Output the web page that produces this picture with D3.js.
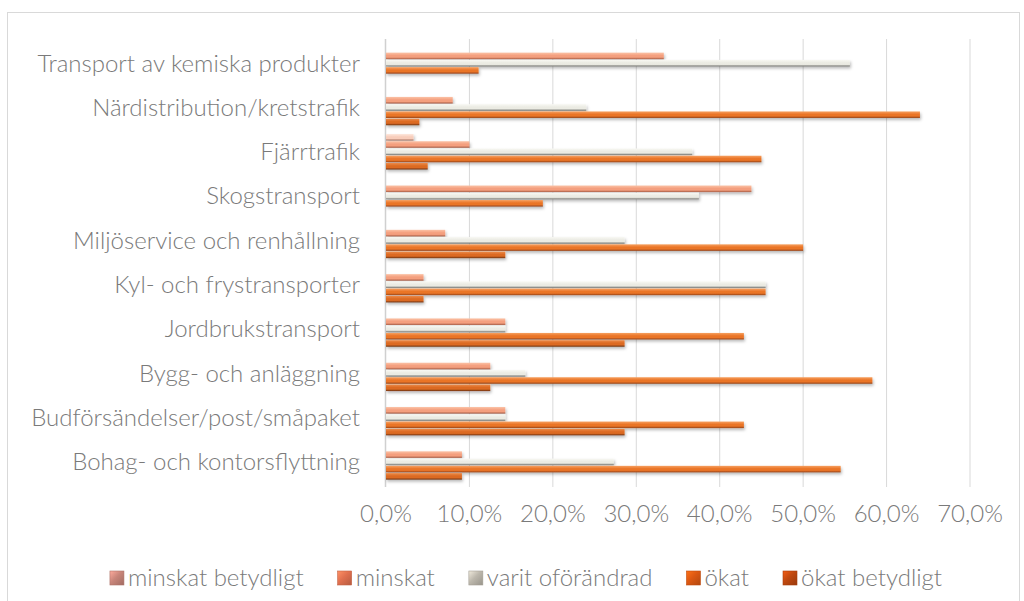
<!DOCTYPE html>
<html>
<head>
<meta charset="utf-8">
<script src="https://cdn.jsdelivr.net/npm/d3@7"></script>
<style>
  body { margin: 0; background: #fff; }
  svg text { font-family: Lato, "Open Sans", sans-serif; font-weight: 300; fill: #7a7a7a; }
</style>
</head>
<body>
<svg id="chart" width="1024" height="601"></svg>
<script>
// Categories, top to bottom
var categories = [
  "Transport av kemiska produkter",
  "Närdistribution/kretstrafik",
  "Fjärrtrafik",
  "Skogstransport",
  "Miljöservice och renhållning",
  "Kyl- och frystransporter",
  "Jordbrukstransport",
  "Bygg- och anläggning",
  "Budförsändelser/post/småpaket",
  "Bohag- och kontorsflyttning"
];

var seriesNames = ["minskat betydligt", "minskat", "varit oförändrad", "ökat", "ökat betydligt"];

// Shares (%) per category, same order as categories
var minskatBetydligt = [0, 0, 3.3, 0, 0, 0, 0, 0, 0, 0];
var minskat          = [33.3, 8.0, 10.0, 43.8, 7.1, 4.5, 14.3, 12.5, 14.3, 9.1];
var oforandrad       = [55.6, 24.0, 36.7, 37.5, 28.6, 45.5, 14.3, 16.7, 14.3, 27.3];
var okat             = [11.1, 64.0, 45.0, 18.8, 50.0, 45.5, 42.9, 58.3, 42.9, 54.5];
var okatBetydligt    = [0, 4.0, 5.0, 0, 14.3, 4.5, 28.6, 12.5, 28.6, 9.1];

var xTicks = [0, 10, 20, 30, 40, 50, 60, 70];

var seriesValues = [minskatBetydligt, minskat, oforandrad, okat, okatBetydligt];

// bar look: top, mid, bottom edge; legend icon colour
var barStyle = [
  { top: "#fde8de", mid: "#f8cdbb", edge: "#a5705f", icon: "#c8857a" },
  { top: "#fbc2a6", mid: "#f49f7e", edge: "#a75c44", icon: "#e0704f" },
  { top: "#f8f8f3", mid: "#ebebe3", edge: "#6e6e6a", icon: "#bcb7ac" },
  { top: "#f6a060", mid: "#ea7426", edge: "#94431a", icon: "#dc5812" },
  { top: "#ec8a48", mid: "#dc6a22", edge: "#6e3212", icon: "#bf480f" }
];

var svg = d3.select("#chart");
var fontSize = 24;

// chart frame
svg.append("rect")
  .attr("x", 7.5).attr("y", 12.5)
  .attr("width", 1012).attr("height", 640)
  .attr("fill", "none").attr("stroke", "#d9d9d9");

var defs = svg.append("defs");
var shadow = defs.append("filter").attr("id", "shadow")
  .attr("x", "-5%").attr("y", "-50%").attr("width", "110%").attr("height", "250%");
shadow.append("feDropShadow")
  .attr("dx", 1).attr("dy", 2).attr("stdDeviation", 1.4)
  .attr("flood-color", "#000").attr("flood-opacity", 0.28);

barStyle.forEach(function(s, i) {
  var g = defs.append("linearGradient").attr("id", "grad" + i)
    .attr("x1", 0).attr("y1", 0).attr("x2", 0).attr("y2", 1);
  g.append("stop").attr("offset", "0%").attr("stop-color", s.top);
  g.append("stop").attr("offset", "45%").attr("stop-color", s.mid);
  g.append("stop").attr("offset", "70%").attr("stop-color", s.mid);
  g.append("stop").attr("offset", "100%").attr("stop-color", s.edge);
  var ig = defs.append("linearGradient").attr("id", "icon" + i)
    .attr("x1", 0).attr("y1", 0).attr("x2", 1).attr("y2", 1);
  ig.append("stop").attr("offset", "0%").attr("stop-color", d3.color(s.icon).brighter(0.7));
  ig.append("stop").attr("offset", "45%").attr("stop-color", s.icon);
  ig.append("stop").attr("offset", "100%").attr("stop-color", d3.color(s.icon).darker(0.6));
});

// Scales
var x = d3.scaleLinear().domain([0, 70]).range([386, 970]);
var y = d3.scaleBand().domain(categories).range([41, 484]);
var ys = d3.scaleBand().domain(seriesNames).range([0, y.bandwidth()]).paddingOuter(0.55);

// gridlines
svg.append("g")
  .selectAll("line")
  .data(xTicks.slice(1))
  .enter()
  .append("line")
  .attr("x1", function(d) { return x(d); })
  .attr("x2", function(d) { return x(d); })
  .attr("y1", 39).attr("y2", 487)
  .attr("stroke", "#d9d9d9").attr("stroke-width", 1);

// category axis line
svg.append("line")
  .attr("x1", 385.5).attr("x2", 385.5)
  .attr("y1", 39).attr("y2", 487)
  .attr("stroke", "#d0d0d0").attr("stroke-width", 1.5);

// bars
var rows = [];
categories.forEach(function(c, ci) {
  seriesNames.forEach(function(s, si) {
    var v = seriesValues[si][ci];
    if (v > 0) rows.push({ cat: c, series: s, si: si, value: v });
  });
});

var barH = ys.bandwidth() * 0.9;
svg.append("g")
  .attr("filter", "url(#shadow)")
  .selectAll("rect")
  .data(rows)
  .enter()
  .append("rect")
  .attr("x", x(0))
  .attr("y", function(d) { return y(d.cat) + ys(d.series) + (ys.bandwidth() - barH) / 2; })
  .attr("width", function(d) { return x(d.value) - x(0); })
  .attr("height", barH)
  .attr("fill", function(d) { return "url(#grad" + d.si + ")"; });

// category labels
svg.append("g")
  .selectAll("text")
  .data(categories)
  .enter()
  .append("text")
  .attr("x", 360)
  .attr("y", function(d) { return y(d) + y.bandwidth() / 2; })
  .attr("dy", "0.35em")
  .attr("text-anchor", "end")
  .style("font-size", fontSize + "px")
  .text(function(d) { return d; });

// value axis labels
var fmt = function(d) { return d.toFixed(1).replace(".", ",") + "%"; };
svg.append("g")
  .selectAll("text")
  .data(xTicks)
  .enter()
  .append("text")
  .attr("x", function(d) { return x(d); })
  .attr("y", 514)
  .attr("dy", "0.35em")
  .attr("text-anchor", "middle")
  .style("font-size", fontSize + "px")
  .text(fmt);

// legend
var legend = svg.append("g");
var items = legend.selectAll("g")
  .data(seriesNames)
  .enter()
  .append("g");
items.append("rect")
  .attr("width", 14).attr("height", 14)
  .attr("y", -7)
  .attr("fill", function(d, i) { return "url(#icon" + i + ")"; })
  .attr("stroke", function(d, i) { return d3.color(barStyle[i].icon).darker(0.4); })
  .attr("stroke-width", 0.6);
items.append("text")
  .attr("x", 18)
  .attr("dy", "0.35em")
  .style("font-size", fontSize + "px")
  .text(function(d) { return d; });

var gap = 34, widths = [];
items.each(function() { widths.push(this.getBBox().width); });
var total = d3.sum(widths) + gap * (widths.length - 1);
var cx = 526 - total / 2;
items.attr("transform", function(d, i) {
  var tx = cx;
  cx += widths[i] + gap;
  return "translate(" + tx + ",578)";
});
</script>
</body>
</html>
